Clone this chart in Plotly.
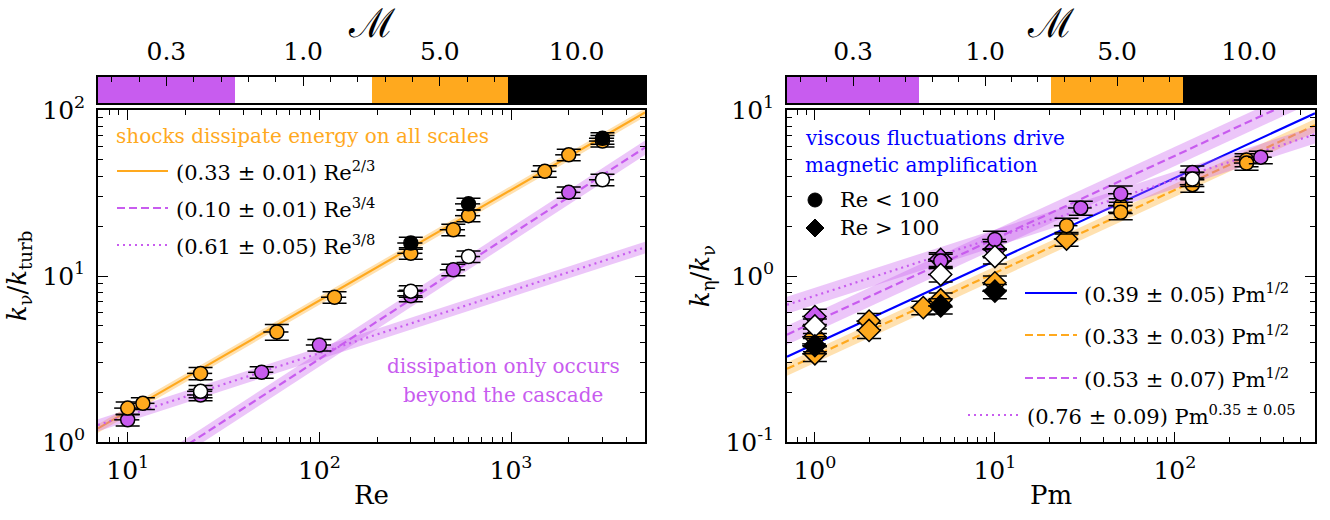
import numpy as np
import plotly.graph_objects as go

W, H = 1330, 520
SERIF = "DejaVu Serif"
PURPLE = "#C85CEF"
ORANGE = "#FFA91E"
BLUE = "#0000FF"

# ---------------- Left panel: k_nu/k_turb vs Re (circles) ----------------
re_purple = [10, 24, 50, 100, 300, 500, 2000]
knu_purple = [1.36, 1.92, 2.63, 3.84, 7.6, 10.9, 31.9]
knu_purple_err = [0.11, 0.15, 0.21, 0.31, 0.6, 0.87, 2.5]

re_orange = [10, 12, 24, 60, 120, 300, 500, 600, 1500, 2000, 3000]
knu_orange = [1.6, 1.71, 2.59, 4.6, 7.45, 13.7, 19.0, 23.1, 42.7, 53.7, 65.0]
knu_orange_err = [0.14, 0.14, 0.22, 0.5, 0.6, 1.1, 1.5, 1.9, 3.4, 4.3, 5.2]

re_white = [24, 300, 600, 3000]
knu_white = [2.02, 8.1, 13.1, 38.0]
knu_white_err = [0.17, 0.65, 1.05, 3.0]

re_black = [300, 600, 3000]
knu_black = [15.8, 27.2, 67.6]
knu_black_err = [1.3, 2.2, 5.4]

# fits on the left: coefficient, uncertainty, exponent, shaded half-width
left_fit_coef = [0.33, 0.10, 0.61]
left_fit_err = [0.01, 0.01, 0.05]
left_fit_exp = [2 / 3, 3 / 4, 3 / 8]
left_fit_band = [0.019, 0.01, 0.05]
left_fit_labels = [
    "(0.33 ± 0.01) Re<sup>2/3</sup>",
    "(0.10 ± 0.01) Re<sup>3/4</sup>",
    "(0.61 ± 0.05) Re<sup>3/8</sup>",
]

# ---------------- Right panel: k_eta/k_nu vs Pm ----------------
# circles: Re < 100
pm_c_orange = [25, 50, 50, 125, 250, 250]
keta_c_orange = [2.01, 2.65, 2.42, 3.55, 5.0, 4.79]
keta_c_orange_err = [0.22, 0.27, 0.24, 0.35, 0.45, 0.45]
pm_c_purple = [5, 10, 30, 50, 125, 300]
keta_c_purple = [1.23, 1.66, 2.57, 3.13, 4.2, 5.2]
keta_c_purple_err = [0.12, 0.2, 0.25, 0.35, 0.4, 0.45]
pm_c_white = [125]
keta_c_white = [3.84]
keta_c_white_err = [0.38]
pm_c_black = [1]
keta_c_black = [0.39]
keta_c_black_err = [0.04]

# diamonds: Re > 100
pm_d_orange = [1, 1, 2, 2, 4, 5, 10, 25]
keta_d_orange = [0.43, 0.34, 0.535, 0.47, 0.645, 0.72, 0.91, 1.67]
keta_d_orange_err = [0.05, 0.035, 0.06, 0.05, 0.06, 0.07, 0.09, 0.16]
pm_d_purple = [1, 5, 10]
keta_d_purple = [0.57, 1.26, 1.45]
keta_d_purple_err = [0.06, 0.12, 0.16]
pm_d_white = [1, 5, 10]
keta_d_white = [0.50, 1.02, 1.31]
keta_d_white_err = [0.05, 0.1, 0.13]
pm_d_black = [1, 5, 10]
keta_d_black = [0.38, 0.66, 0.81]
keta_d_black_err = [0.04, 0.07, 0.08]

right_fit_coef = [0.39, 0.33, 0.53, 0.76]
right_fit_err = [0.05, 0.03, 0.07, 0.09]
right_fit_exp = [0.5, 0.5, 0.5, 0.35]
right_fit_band = [0.0, 0.03, 0.07, 0.09]
right_fit_labels = [
    "(0.39 ± 0.05) Pm<sup>1/2</sup>",
    "(0.33 ± 0.03) Pm<sup>1/2</sup>",
    "(0.53 ± 0.07) Pm<sup>1/2</sup>",
    "(0.76 ± 0.09) Pm<sup>0.35 ± 0.05</sup>",
]

mach_labels = ["0.3", "1.0", "5.0", "10.0"]
mach_colors = [PURPLE, "#FFFFFF", ORANGE, "#000000"]

RE_RANGE = [7, 5000]
PM_RANGE = [0.7, 600]
REL_XERR = 0.15

fig = go.Figure()


def rgba(hexc, a):
    h = hexc.lstrip("#")
    return "rgba(%d,%d,%d,%.2f)" % (int(h[0:2], 16), int(h[2:4], 16), int(h[4:6], 16), a)


def add_fit(xr, coef, expo, band, color, dash, xa, ya):
    xs = np.logspace(np.log10(xr[0]), np.log10(xr[1]), 200)
    if band > 0:
        fig.add_trace(go.Scatter(x=xs, y=(coef - band) * xs ** expo, mode="lines",
                                 line=dict(width=0, color=rgba(color, 0)), xaxis=xa, yaxis=ya,
                                 showlegend=False, hoverinfo="skip"))
        fig.add_trace(go.Scatter(x=xs, y=(coef + band) * xs ** expo, mode="lines",
                                 line=dict(width=0, color=rgba(color, 0)), fill="tonexty",
                                 fillcolor=rgba(color, 0.35), xaxis=xa, yaxis=ya,
                                 showlegend=False, hoverinfo="skip"))
    fig.add_trace(go.Scatter(x=xs, y=coef * xs ** expo, mode="lines",
                             line=dict(color=color, width=2.2, dash=dash),
                             xaxis=xa, yaxis=ya, showlegend=False, hoverinfo="skip"))


def add_pts(x, y, yerr, color, symbol, xa, ya):
    size = 17 if symbol == "diamond" else 14
    fig.add_trace(go.Scatter(
        x=x, y=y, mode="markers", xaxis=xa, yaxis=ya, showlegend=False,
        marker=dict(color=color, size=size, symbol=symbol, line=dict(color="black", width=1.5)),
        error_y=dict(type="data", array=yerr, color="black", thickness=1.5, width=12),
        error_x=dict(type="data", array=[REL_XERR * v for v in x], color="black", thickness=1.5, width=0),
    ))


DASH = "8px,4px"
DOT = "2px,4px"

# left fits
left_styles = [(ORANGE, "solid"), (PURPLE, DASH), (PURPLE, DOT)]
for c, e, b, (col, d) in zip(left_fit_coef, left_fit_exp, left_fit_band, left_styles):
    add_fit(RE_RANGE, c, e, b, col, d, "x", "y")

# right fits
right_styles = [(BLUE, "solid"), (ORANGE, DASH), (PURPLE, DASH), (PURPLE, DOT)]
for c, e, b, (col, d) in zip(right_fit_coef, right_fit_exp, right_fit_band, right_styles):
    add_fit(PM_RANGE, c, e, b, col, d, "x2", "y2")

# left points
add_pts(re_purple, knu_purple, knu_purple_err, PURPLE, "circle", "x", "y")
add_pts(re_orange, knu_orange, knu_orange_err, ORANGE, "circle", "x", "y")
add_pts(re_white, knu_white, knu_white_err, "#FFFFFF", "circle", "x", "y")
add_pts(re_black, knu_black, knu_black_err, "#000000", "circle", "x", "y")

# right points
add_pts(pm_d_orange, keta_d_orange, keta_d_orange_err, ORANGE, "diamond", "x2", "y2")
add_pts(pm_c_orange, keta_c_orange, keta_c_orange_err, ORANGE, "circle", "x2", "y2")
add_pts(pm_d_purple, keta_d_purple, keta_d_purple_err, PURPLE, "diamond", "x2", "y2")
add_pts(pm_c_purple, keta_c_purple, keta_c_purple_err, PURPLE, "circle", "x2", "y2")
add_pts(pm_d_white, keta_d_white, keta_d_white_err, "#FFFFFF", "diamond", "x2", "y2")
add_pts(pm_c_white, keta_c_white, keta_c_white_err, "#FFFFFF", "circle", "x2", "y2")
add_pts(pm_d_black, keta_d_black, keta_d_black_err, "#000000", "diamond", "x2", "y2")
add_pts(pm_c_black, keta_c_black, keta_c_black_err, "#000000", "circle", "x2", "y2")

# Mach-number colour bars (discrete)
cscale = []
for i, col in enumerate(mach_colors):
    cscale += [[i / 4, col], [(i + 1) / 4, col]]
for xa, ya in [("x3", "y3"), ("x4", "y4")]:
    fig.add_trace(go.Heatmap(x=[0.5, 1.5, 2.5, 3.5], y=[0], z=[[0, 1, 2, 3]],
                             colorscale=cscale, zmin=-0.5, zmax=3.5, showscale=False,
                             xaxis=xa, yaxis=ya, hoverinfo="skip"))


def minor_log(lo_exp, hi_exp):
    return [m * 10 ** e for e in range(lo_exp, hi_exp + 1) for m in range(2, 10)]


TICKFONT = dict(family=SERIF, size=25, color="black")
TITLEFONT = dict(family=SERIF, size=26, color="black")

base = dict(type="log", showline=True, linecolor="black", linewidth=1.5, mirror="allticks",
            ticks="inside", ticklen=10, tickwidth=1.2, tickcolor="black", showgrid=False,
            zeroline=False, tickfont=TICKFONT, automargin=False)


def sup_labels(vals):
    return ["10<sup>%d</sup>" % int(round(np.log10(v))) for v in vals]


x_dom_l = [98 / W, 645 / W]
x_dom_r = [787 / W, 1315 / W]
y_dom = [1 - 442 / H, 1 - 110 / H]
cb_dom = [1 - 103 / H, 1 - 77 / H]

fig.update_layout(
    width=W, height=H, margin=dict(l=0, r=0, t=0, b=0),
    paper_bgcolor="white", plot_bgcolor="white", showlegend=False,
    xaxis=dict(base, domain=x_dom_l, anchor="y", range=[np.log10(RE_RANGE[0]), np.log10(RE_RANGE[1])],
               tickvals=[10, 100, 1000], ticktext=sup_labels([10, 100, 1000]),
               minor=dict(ticks="inside", ticklen=5, tickwidth=1, tickcolor="black", tickvals=minor_log(0, 3)),
               ticklabelstandoff=5,
               title=dict(text="Re", font=TITLEFONT, standoff=2)),
    yaxis=dict(base, domain=y_dom, anchor="x", range=[0, 2],
               tickvals=[1, 10, 100], ticktext=sup_labels([1, 10, 100]),
               minor=dict(ticks="inside", ticklen=5, tickwidth=1, tickcolor="black", tickvals=minor_log(0, 1)),
               ticklabelstandoff=6,
               title=dict(text="<i>k</i><sub>ν</sub>/<i>k</i><sub>turb</sub>", font=TITLEFONT, standoff=8)),
    xaxis2=dict(base, domain=x_dom_r, anchor="y2", range=[np.log10(PM_RANGE[0]), np.log10(PM_RANGE[1])],
                tickvals=[1, 10, 100], ticktext=sup_labels([1, 10, 100]),
                minor=dict(ticks="inside", ticklen=5, tickwidth=1, tickcolor="black", tickvals=minor_log(-1, 2)),
                ticklabelstandoff=5,
                title=dict(text="Pm", font=TITLEFONT, standoff=2)),
    yaxis2=dict(base, domain=y_dom, anchor="x2", range=[-1, 1],
                tickvals=[0.1, 1, 10], ticktext=sup_labels([0.1, 1, 10]),
                minor=dict(ticks="inside", ticklen=5, tickwidth=1, tickcolor="black", tickvals=minor_log(-1, 0)),
                ticklabelstandoff=6,
                title=dict(text="<i>k</i><sub>η</sub>/<i>k</i><sub>ν</sub>", font=TITLEFONT, standoff=8)),
)

for n, dom in [(3, x_dom_l), (4, x_dom_r)]:
    fig.update_layout({
        "xaxis%d" % n: dict(domain=dom, anchor="y%d" % n, range=[0, 4], side="top",
                            showline=True, linecolor="black", linewidth=1.5, mirror=True,
                            ticks="inside", ticklen=9, tickwidth=1.2, tickcolor="black",
                            tickvals=[0.5, 1.5, 2.5, 3.5], ticktext=mach_labels,
                            minor=dict(ticks="inside", ticklen=5, tickwidth=1, tickcolor="black",
                                       tickvals=[i + f for i in range(4) for f in (0.1, 0.3, 0.7, 0.9)]),
                            showgrid=False, zeroline=False, tickfont=TICKFONT, automargin=False,
                            ticklabelstandoff=5,
                            title=dict(text="ℳ", font=dict(family=SERIF, size=40, color="black"), standoff=0)),
        "yaxis%d" % n: dict(domain=cb_dom, anchor="x%d" % n, range=[-0.5, 0.5],
                            showline=True, linecolor="black", linewidth=1.5, mirror=True,
                            ticks="", showticklabels=False, showgrid=False, zeroline=False,
                            automargin=False),
    })


def ann(text, x, y, size=20, color="black", xanchor="left"):
    fig.add_annotation(text=text, x=x / W, y=1 - y / H, xref="paper", yref="paper",
                       showarrow=False, xanchor=xanchor, yanchor="middle",
                       font=dict(family=SERIF, size=size, color=color))


def legline(x0, x1, y, color, dash):
    fig.add_shape(type="line", xref="paper", yref="paper", x0=x0 / W, x1=x1 / W,
                  y0=1 - y / H, y1=1 - y / H, line=dict(color=color, width=2.2, dash=dash))


# left panel legend
ann("shocks dissipate energy on all scales", 114, 136, color=ORANGE)
for lab, (col, d), yy in zip(left_fit_labels, left_styles, [171, 208, 245]):
    legline(117, 168, yy, col, d)
    ann(lab, 174, yy, size=21)
ann("dissipation only occurs", 503, 366, color=PURPLE, xanchor="center")
ann("beyond the cascade", 503, 395, color=PURPLE, xanchor="center")

# right panel text / legend
ann("viscous fluctuations drive", 803, 138, color=BLUE)
ann("magnetic amplification", 803, 165, color=BLUE)
fig.add_shape(type="circle", xref="paper", yref="paper", xsizemode="pixel", ysizemode="pixel",
              xanchor=815 / W, yanchor=1 - 200 / H, x0=-7, x1=7, y0=-7, y1=7,
              fillcolor="black", line=dict(color="black", width=1))
fig.add_shape(type="path", xref="paper", yref="paper", xsizemode="pixel", ysizemode="pixel",
              xanchor=815 / W, yanchor=1 - 228 / H, path="M -9,0 L 0,9 L 9,0 L 0,-9 Z",
              fillcolor="black", line=dict(color="black", width=1))
ann("Re &lt; 100", 838, 200, size=21)
ann("Re &gt; 100", 838, 228, size=21)

right_leg_pos = [(1025, 1077, 1082, 293), (1025, 1077, 1082, 335),
                 (1025, 1077, 1082, 378), (968, 1020, 1025, 415)]
for lab, (col, d), (x0, x1, xt, yy) in zip(right_fit_labels, right_styles, right_leg_pos):
    legline(x0, x1, yy, col, d)
    ann(lab, xt, yy, size=21)

fig.write_html("out.html", config={"displayModeBar": False},
               post_script="document.body.style.margin='0px';")
